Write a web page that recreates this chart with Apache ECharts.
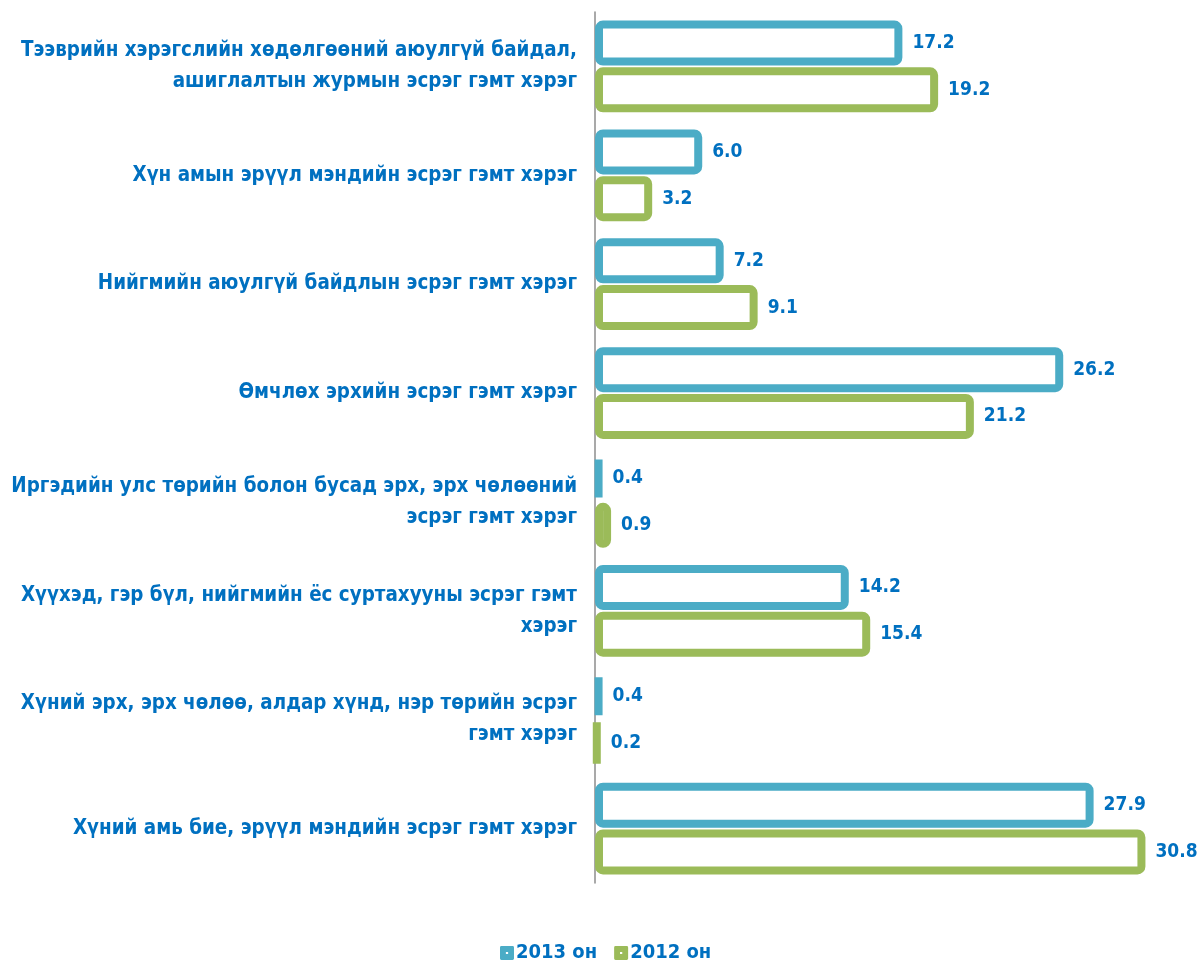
<!DOCTYPE html>
<html>
<head>
<meta charset="utf-8">
<script src="https://cdn.jsdelivr.net/npm/echarts@6/dist/echarts.min.js"></script>
<style>
  html, body { margin: 0; padding: 0; background: #fff; }
  #main { width: 1198px; height: 966px; }
</style>
</head>
<body>
<div id="main"></div>
<script>
var categories = [
    'Тээврийн хэрэгслийн хөдөлгөөний аюулгүй байдал,\nашиглалтын журмын эсрэг гэмт хэрэг',
    'Хүн амын эрүүл мэндийн эсрэг гэмт хэрэг',
    'Нийгмийн аюулгүй байдлын эсрэг гэмт хэрэг',
    'Өмчлөх эрхийн эсрэг гэмт хэрэг',
    'Иргэдийн улс төрийн болон бусад эрх, эрх чөлөөний\nэсрэг гэмт хэрэг',
    'Хүүхэд, гэр бүл, нийгмийн ёс суртахууны эсрэг гэмт\nхэрэг',
    'Хүний эрх, эрх чөлөө, алдар хүнд, нэр төрийн эсрэг\nгэмт хэрэг',
    'Хүний амь бие, эрүүл мэндийн эсрэг гэмт хэрэг'
];
var values2013 = [17.2, 6.0, 7.2, 26.2, 0.4, 14.2, 0.4, 27.9];
var values2012 = [19.2, 3.2, 9.1, 21.2, 0.9, 15.4, 0.2, 30.8];

var blue = '#4BACC6';
var green = '#9BBB59';
var textBlue = '#0070C0';
var font = '"DejaVu Sans Condensed", "Liberation Sans", sans-serif';

var chart = echarts.init(document.getElementById('main'), null, { renderer: 'canvas' });

function barSeries(name, data, color) {
    return {
        name: name,
        type: 'bar',
        data: data,
        barWidth: 45,
        barGap: '4%',
        itemStyle: {
            color: '#fff',
            borderColor: color,
            borderWidth: 8,
            borderRadius: 4
        },
        label: {
            show: true,
            position: 'right',
            distance: 10,
            color: textBlue,
            fontFamily: font,
            fontWeight: 'bold',
            fontSize: 19,
            formatter: function (p) { return p.value.toFixed(1); }
        }
    };
}

// legend icon: filled square with a tiny hole in the middle
var legendIcon = 'path://M1,0H9Q10,0 10,1V9Q10,10 9,10H1Q0,10 0,9V1Q0,0 1,0Z M4.2,4.2V5.8H5.8V4.2Z';

chart.setOption({
    animation: false,
    grid: {
        left: 595,
        right: 49,
        top: 12,
        bottom: 83
    },
    legend: {
        top: 938,
        left: 495,
        itemWidth: 14,
        itemHeight: 14,
        itemGap: 17,
        textStyle: {
            color: textBlue,
            fontFamily: font,
            fontWeight: 'bold',
            fontSize: 20,
            padding: [0, 0, 0, -3]
        },
        data: [
            { name: '2013 он', icon: legendIcon, itemStyle: { color: blue, borderWidth: 0 } },
            { name: '2012 он', icon: legendIcon, itemStyle: { color: green, borderWidth: 0 } }
        ]
    },
    xAxis: {
        type: 'value',
        min: 0,
        max: 31,
        show: false
    },
    yAxis: {
        type: 'category',
        data: categories,
        inverse: true,
        axisLine: { show: true, lineStyle: { color: '#8c8c8c', width: 1.5 } },
        axisTick: { show: false },
        axisLabel: {
            margin: 18,
            color: textBlue,
            fontFamily: font,
            fontWeight: 'bold',
            fontSize: 20.4,
            lineHeight: 31,
            align: 'right'
        }
    },
    series: [
        barSeries('2013 он', values2013, blue),
        barSeries('2012 он', values2012, green)
    ]
});
</script>
</body>
</html>
